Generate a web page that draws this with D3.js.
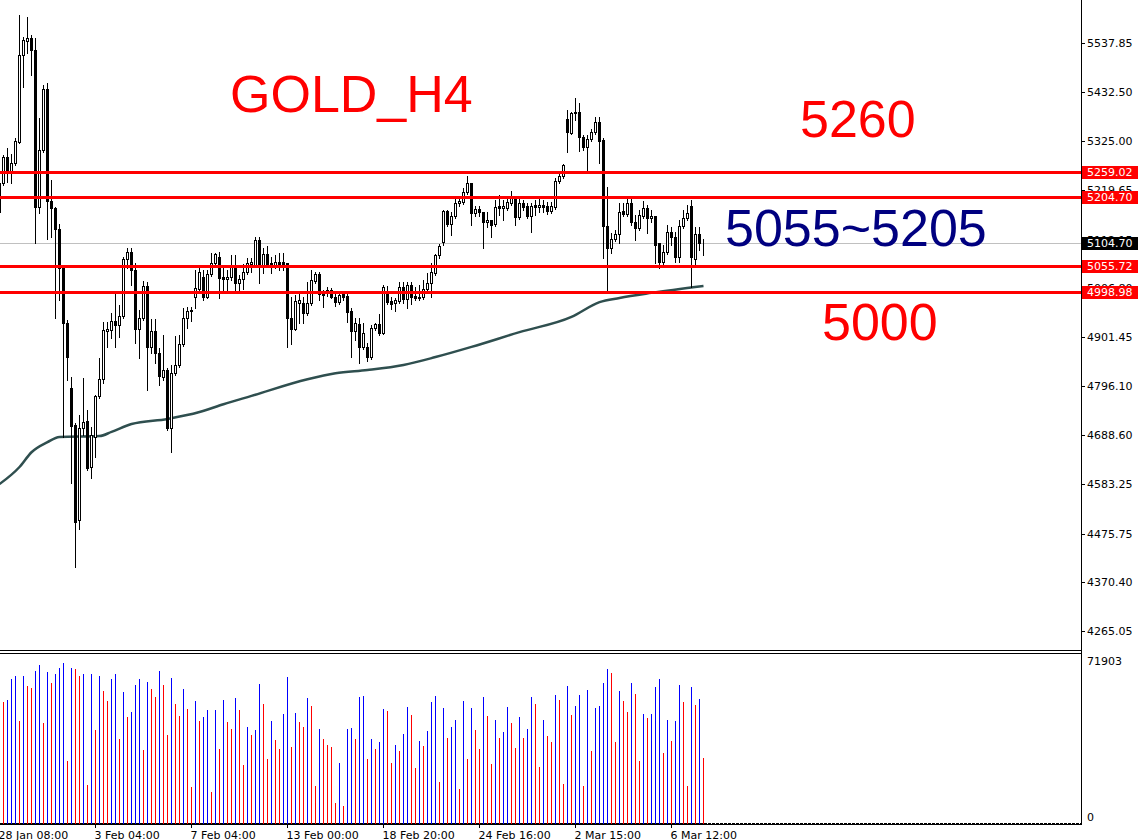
<!DOCTYPE html>
<html>
<head>
<meta charset="utf-8">
<script src="https://cdn.jsdelivr.net/npm/d3@7"></script>
<style>
html, body { margin: 0; padding: 0; background: #fff; overflow: hidden; }
svg { display: block; }
</style>
</head>
<body>
<div id="chart"></div>
<script>
// GOLD H4 candles, oldest first (first candle is partly off the left edge)
var opens = [
  5234.8, 5234.8, 5291.1, 5256.5, 5278.2, 5323.6, 5511.9, 5542.2, 5548.7, 5522.8,
  5182.8, 5306.3, 5438.3, 5195.8, 5180.7, 5135.2, 5050.8, 4931.7, 4791.1, 4711.0,
  4505.4, 4704.5, 4719.7, 4620.1, 4684.9, 4773.8, 4810.5, 4913.9, 4916.0, 4936.0,
  4927.4, 4946.9, 5070.3, 5085.5, 5046.5, 4918.2, 4942.5, 5011.9, 4879.8, 4913.9,
  4866.8, 4814.9, 4830.1, 4704.5, 4823.6, 4840.9, 4886.3, 4942.5, 4957.8, 4988.1,
  5005.4, 5031.4, 4988.1, 5037.9, 5061.6, 5074.6, 5031.4, 5027.1, 5031.4, 5053.0,
  5018.4, 5027.1, 5042.2, 5059.5, 5057.3, 5111.5, 5057.3, 5081.2, 5061.6, 5057.3,
  5063.8, 5063.8, 5061.6, 4942.5, 4918.2, 4975.1, 4975.1, 4953.4, 4975.1, 5022.7,
  5037.9, 4996.8, 4996.8, 5003.3, 4988.1, 4977.3, 4994.6, 4990.3, 4957.8, 4913.9,
  4929.6, 4879.8, 4879.8, 4858.2, 4920.4, 4929.6, 4909.6, 4996.8, 4979.4, 4975.1,
  4979.4, 5009.8, 4983.8, 5014.0, 4990.3, 4988.1, 4988.1, 5005.4, 5018.4, 5040.0,
  5078.9, 5107.2, 5174.2, 5146.0, 5163.4, 5191.5, 5193.7, 5215.3, 5234.8, 5169.9,
  5178.6, 5172.0, 5150.4, 5154.7, 5146.0, 5185.0, 5180.7, 5180.7, 5191.5, 5202.4,
  5161.2, 5191.5, 5185.0, 5163.4, 5187.2, 5182.8, 5187.2, 5185.0, 5174.2, 5182.8,
  5239.1, 5250.0, 5373.4, 5343.1, 5386.4, 5388.5, 5334.4, 5312.8, 5330.1, 5345.3,
  5366.9, 5328.0, 5141.7, 5094.1, 5113.7, 5124.5, 5174.2, 5167.7, 5191.5, 5150.4,
  5137.4, 5163.4, 5180.7, 5159.1, 5163.4, 5105.0, 5063.8, 5085.5, 5128.8, 5118.0,
  5074.6, 5141.7, 5159.1, 5185.0, 5070.3, 5124.5, 5105.0
];
var highs = [
  5241.3, 5295.4, 5310.6, 5297.6, 5332.3, 5598.5, 5550.9, 5594.2, 5555.2, 5548.7,
  5375.5, 5447.0, 5451.3, 5241.3, 5182.8, 5146.0, 5050.8, 4938.2, 4814.9, 4715.3,
  4732.6, 4812.7, 4743.4, 4706.6, 4776.0, 4856.0, 4933.9, 4933.9, 4953.4, 4996.8,
  4970.8, 5074.6, 5094.1, 5094.1, 5061.6, 4960.0, 5022.7, 5020.5, 4940.4, 4940.4,
  4877.7, 4905.2, 4834.4, 4840.9, 4903.0, 4905.2, 4964.3, 4966.5, 4966.5, 5046.5,
  5055.1, 5046.5, 5046.5, 5083.3, 5083.3, 5085.5, 5053.0, 5046.5, 5078.9, 5078.9,
  5035.7, 5059.5, 5072.5, 5072.5, 5118.0, 5118.0, 5094.1, 5098.5, 5074.6, 5078.9,
  5083.3, 5083.3, 5061.6, 4988.1, 4992.4, 4994.6, 4988.1, 5020.5, 5046.5, 5042.2,
  5042.2, 5003.3, 5009.8, 5007.6, 4994.6, 4996.8, 4998.9, 4998.9, 4964.3, 4942.5,
  4942.5, 4931.7, 4888.4, 4927.4, 4931.7, 4951.3, 5014.0, 5011.9, 4988.1, 4985.9,
  5020.5, 5020.5, 5020.5, 5020.5, 5009.8, 5014.0, 5024.9, 5040.0, 5061.6, 5081.2,
  5102.8, 5176.4, 5176.4, 5172.0, 5202.4, 5202.4, 5224.0, 5250.0, 5234.8, 5185.0,
  5185.0, 5172.0, 5172.0, 5154.7, 5198.1, 5208.9, 5198.1, 5206.7, 5217.6, 5204.5,
  5202.4, 5198.1, 5191.5, 5191.5, 5198.1, 5202.4, 5198.1, 5193.7, 5193.7, 5245.6,
  5258.6, 5275.9, 5392.8, 5388.5, 5418.8, 5408.0, 5338.8, 5338.8, 5351.7, 5377.7,
  5377.7, 5332.3, 5226.2, 5126.6, 5133.1, 5191.5, 5191.5, 5202.4, 5202.4, 5165.5,
  5176.4, 5195.8, 5187.2, 5176.4, 5163.4, 5105.0, 5100.6, 5143.9, 5139.6, 5128.8,
  5154.7, 5176.4, 5187.2, 5198.1, 5139.6, 5139.6, 5113.7
];
var lows = [
  5165.5, 5230.5, 5237.0, 5234.8, 5273.8, 5321.5, 5442.7, 5516.3, 5468.7, 5105.0,
  5169.9, 5302.0, 5113.7, 5118.0, 4942.5, 4981.6, 4684.9, 4808.4, 4585.6, 4403.5,
  4485.8, 4689.2, 4613.6, 4596.3, 4641.6, 4769.5, 4801.9, 4879.8, 4898.7, 4879.8,
  4900.9, 4942.5, 5050.8, 5014.0, 4888.4, 4856.0, 4938.2, 4786.8, 4866.8, 4845.2,
  4797.6, 4808.4, 4700.2, 4652.5, 4819.3, 4836.6, 4882.0, 4920.4, 4936.0, 4964.3,
  5003.3, 4981.6, 4985.9, 5033.6, 5057.3, 4985.9, 5003.3, 5003.3, 5024.9, 5001.1,
  5003.3, 5005.4, 5037.9, 5042.2, 5055.1, 5018.4, 5040.0, 5055.1, 5040.0, 5050.8,
  5046.5, 5046.5, 4879.8, 4886.3, 4916.0, 4931.7, 4931.7, 4949.1, 4970.8, 5018.4,
  4981.6, 4966.5, 4990.3, 4985.9, 4968.6, 4973.0, 4981.6, 4933.9, 4858.2, 4895.0,
  4845.2, 4875.5, 4849.5, 4853.9, 4916.0, 4905.2, 4907.4, 4973.0, 4962.1, 4957.8,
  4975.1, 4975.1, 4964.3, 4973.0, 4981.6, 4981.6, 4983.8, 5001.1, 4988.1, 5035.7,
  5072.5, 5100.6, 5141.7, 5122.3, 5159.1, 5185.0, 5189.4, 5211.0, 5143.9, 5163.4,
  5163.4, 5094.1, 5139.6, 5118.0, 5141.7, 5165.5, 5154.7, 5176.4, 5187.2, 5143.9,
  5156.9, 5176.4, 5159.1, 5128.8, 5165.5, 5172.0, 5172.0, 5167.7, 5169.9, 5178.6,
  5234.8, 5245.6, 5302.0, 5341.0, 5371.2, 5304.2, 5306.3, 5260.8, 5325.8, 5341.0,
  5278.2, 5072.5, 5001.1, 5083.3, 5109.4, 5105.0, 5163.4, 5163.4, 5143.9, 5111.5,
  5133.1, 5159.1, 5126.6, 5150.4, 5061.6, 5050.8, 5059.5, 5081.2, 5100.6, 5063.8,
  5063.8, 5137.4, 5154.7, 5009.8, 5057.3, 5089.8, 5078.9
];
var closes = [
  5172.0, 5291.1, 5256.5, 5278.2, 5325.8, 5511.9, 5544.4, 5548.7, 5522.8, 5182.8,
  5306.3, 5438.3, 5195.8, 5180.7, 5135.2, 5050.8, 4931.7, 4858.2, 4708.8, 4501.0,
  4704.5, 4717.5, 4617.9, 4689.2, 4773.8, 4810.5, 4916.0, 4918.2, 4936.0, 4927.4,
  4946.9, 5070.3, 5085.5, 5046.5, 4918.2, 4942.5, 5011.9, 4879.8, 4913.9, 4866.8,
  4817.1, 4830.1, 4704.5, 4823.6, 4840.9, 4886.3, 4942.5, 4957.8, 4960.0, 5007.6,
  5042.2, 4988.1, 5037.9, 5061.6, 5081.2, 5029.2, 5027.1, 5031.4, 5053.0, 5018.4,
  5027.1, 5042.2, 5061.6, 5063.8, 5111.5, 5057.3, 5081.2, 5057.3, 5057.3, 5063.8,
  5059.5, 5057.3, 4942.5, 4918.2, 4979.4, 4981.6, 4953.4, 4975.1, 5024.9, 5037.9,
  4994.6, 4992.4, 5003.3, 4988.1, 4977.3, 4992.4, 4988.1, 4955.6, 4913.9, 4931.7,
  4879.8, 4909.6, 4858.2, 4920.4, 4929.6, 4909.6, 5009.8, 4977.3, 4973.0, 4981.6,
  5009.8, 4983.8, 5014.0, 4988.1, 4985.9, 4985.9, 5005.4, 5018.4, 5042.2, 5078.9,
  5098.5, 5174.2, 5146.0, 5163.4, 5191.5, 5195.8, 5215.3, 5234.8, 5169.9, 5178.6,
  5172.0, 5150.4, 5154.7, 5143.9, 5182.8, 5180.7, 5185.0, 5193.7, 5202.4, 5161.2,
  5191.5, 5182.8, 5163.4, 5185.0, 5182.8, 5187.2, 5182.8, 5174.2, 5185.0, 5239.1,
  5250.0, 5273.8, 5345.3, 5386.4, 5388.5, 5334.4, 5312.8, 5330.1, 5345.3, 5366.9,
  5325.8, 5141.7, 5094.1, 5113.7, 5124.5, 5172.0, 5167.7, 5191.5, 5150.4, 5137.4,
  5165.5, 5180.7, 5159.1, 5163.4, 5100.6, 5063.8, 5085.5, 5128.8, 5118.0, 5074.6,
  5141.7, 5159.1, 5169.9, 5074.6, 5124.5, 5105.0, 5104.7
];
var volumes = [
  60000, 53655, 54831, 63945, 65121, 45570, 65415, 61005, 60123, 67620,
  70266, 44688, 67179, 62328, 66297, 68943, 71148, 27930, 68943, 68355,
  65415, 66003, 17346, 66297, 41601, 65415, 58800, 54390, 64092, 66297,
  37632, 58359, 47334, 49539, 61446, 64092, 32781, 62769, 59682, 56154,
  67620, 61446, 39396, 64533, 53067, 47775, 59682, 50862, 16464, 54390,
  45570, 47334, 50421, 14259, 50421, 33222, 54831, 45129, 42042, 55713,
  50127, 26166, 42777, 39249, 41307, 61887, 53067, 28812, 45570, 37191,
  32928, 48657, 64974, 34104, 49098, 45129, 42777, 55713, 52185, 16905,
  42042, 37632, 34839, 34104, 9408, 27048, 8085, 42042, 42483, 37632,
  56154, 56400, 28812, 37632, 33222, 36309, 50862, 49980, 27048, 34986,
  32340, 39837, 51744, 48216, 24843, 36750, 34545, 41160, 53949, 56595,
  18669, 51303, 38073, 42924, 46011, 15582, 54390, 28812, 51303, 41601,
  33222, 56154, 47775, 26607, 46011, 38073, 40719, 51744, 44688, 33663,
  47334, 38073, 42042, 56154, 53067, 25284, 46011, 38955, 36309, 57036,
  54831, 17787, 61005, 48216, 52185, 57036, 16905, 59241, 32340, 51303,
  52185, 62328, 68502, 66738, 36309, 58800, 54390, 49539, 62328, 57477,
  27930, 48657, 46893, 48657, 60564, 64092, 31458, 46011, 36750, 45570,
  61446, 53949, 16905, 60564, 52626, 55272, 29253
];

// moving average read at a few candles: [candle index, price]
var maPoints = [
  [0, 4583], [5, 4620], [8, 4652], [12, 4674], [15, 4685], [25, 4687],
  [28, 4696], [33, 4713], [42, 4724], [50, 4739], [56, 4756], [63, 4774],
  [77, 4810], [84, 4823], [92, 4830], [101, 4841], [109, 4858], [118, 4880],
  [130, 4912], [143, 4945], [150, 4977], [155, 4986], [163, 4997], [176, 5012]
];

var priceTicks = [4265.05, 4370.40, 4475.75, 4583.25, 4688.60, 4796.10, 4901.45,
  5006.80, 5112.15, 5219.65, 5325.00, 5432.50, 5537.85];
var levelLines = [5259.02, 5204.70, 5055.72, 4998.98];
var bidPrice = 5104.70;
var volMax = 71903;

var dateTickIdx = [0, 24, 48, 72, 96, 120, 144, 168];
var dateTickLabels = ["28 Jan 08:00", "3 Feb 04:00", "7 Feb 04:00", "13 Feb 00:00",
  "18 Feb 20:00", "24 Feb 16:00", "2 Mar 15:00", "6 Mar 12:00"];

var notes = [
  { text: "GOLD_H4", x: 230, y: 112, color: "#ff0000" },
  { text: "5260", x: 800, y: 137, color: "#ff0000" },
  { text: "5055~5205", x: 725, y: 246, color: "#000080" },
  { text: "5000", x: 822, y: 340, color: "#ff0000" }
];

var width = 1143, height = 840;
var axisX = 1081;
var mainBottom = 650, volTopY = 653, volBottom = 824;

var svg = d3.select("#chart")
  .append("svg")
  .attr("width", width)
  .attr("height", height)
  .style("font-family", "'DejaVu Sans', sans-serif");

var x = d3.scaleLinear().domain([0, 176]).range([-0.5, 703.5]);
var y = d3.scaleLinear().domain([4265.05, 5537.85]).range([631, 43]);
var yv = d3.scaleLinear().domain([0, volMax]).range([volBottom, 661]);

var candles = opens.map(function (o, i) {
  return { i: i, o: o, h: highs[i], l: lows[i], c: closes[i], v: volumes[i] };
});

svg.append("defs").append("clipPath").attr("id", "mainclip")
  .append("rect").attr("x", 0).attr("y", 0).attr("width", axisX).attr("height", mainBottom);

var main = svg.append("g").attr("clip-path", "url(#mainclip)");

// bid line
main.append("line")
  .attr("x1", 0).attr("x2", axisX)
  .attr("y1", Math.round(y(bidPrice)) + 0.5).attr("y2", Math.round(y(bidPrice)) + 0.5)
  .attr("stroke", "#c0c0c0").attr("stroke-width", 1);

// moving average
var maLine = d3.line()
  .x(function (d) { return x(d[0]); })
  .y(function (d) { return y(d[1]); })
  .curve(d3.curveMonotoneX);
main.append("path")
  .datum(maPoints)
  .attr("d", maLine)
  .attr("fill", "none")
  .attr("stroke", "#2f4f4f")
  .attr("stroke-width", 2.5);

// candles
var cg = main.append("g").selectAll("g").data(candles).enter().append("g");
cg.append("line")
  .attr("x1", function (d) { return x(d.i); })
  .attr("x2", function (d) { return x(d.i); })
  .attr("y1", function (d) { return Math.round(y(d.h)); })
  .attr("y2", function (d) { return Math.round(y(d.l)) + 1; })
  .attr("stroke", "#000").attr("stroke-width", 1);
cg.append("rect")
  .attr("x", function (d) { return x(d.i) - 1; })
  .attr("y", function (d) { return Math.round(y(Math.max(d.o, d.c))) + 0.5; })
  .attr("width", 2)
  .attr("height", function (d) {
    return Math.max(0, Math.round(y(Math.min(d.o, d.c))) - Math.round(y(Math.max(d.o, d.c))));
  })
  .attr("fill", function (d) { return d.c >= d.o ? "#fff" : "#000"; })
  .attr("stroke", "#000").attr("stroke-width", 1);

// level lines
main.selectAll(".lvl").data(levelLines).enter().append("line")
  .attr("x1", 0).attr("x2", axisX)
  .attr("y1", function (d) { return Math.round(y(d)) + 0.5; })
  .attr("y2", function (d) { return Math.round(y(d)) + 0.5; })
  .attr("stroke", "#ff0000").attr("stroke-width", 3);

// notes
svg.selectAll(".note").data(notes).enter().append("text")
  .attr("x", function (d) { return d.x; })
  .attr("y", function (d) { return d.y; })
  .attr("fill", function (d) { return d.color; })
  .style("font-family", "'Liberation Sans', Arial, sans-serif")
  .style("font-size", "52px")
  .text(function (d) { return d.text; });

// volume bars
svg.append("g").selectAll("line").data(candles).enter().append("line")
  .attr("x1", function (d) { return x(d.i); })
  .attr("x2", function (d) { return x(d.i); })
  .attr("y1", volBottom)
  .attr("y2", function (d) { return Math.round(yv(d.v)); })
  .attr("stroke", function (d, i) {
    return i > 0 && d.v > volumes[i - 1] ? "#0000ff" : "#ff0000";
  })
  .attr("stroke-width", 1);

// frames
var frame = svg.append("g").attr("stroke", "#000").attr("stroke-width", 1);
frame.append("line").attr("x1", axisX + 0.5).attr("x2", axisX + 0.5).attr("y1", 0).attr("y2", volBottom + 1);
frame.append("line").attr("x1", 0).attr("x2", axisX + 1).attr("y1", mainBottom + 0.5).attr("y2", mainBottom + 0.5);
frame.append("line").attr("x1", 0).attr("x2", axisX + 1).attr("y1", volTopY + 0.5).attr("y2", volTopY + 0.5);
frame.append("line").attr("x1", 0).attr("x2", axisX + 1).attr("y1", volBottom + 0.5).attr("y2", volBottom + 0.5);
frame.append("line").attr("x1", 0).attr("x2", axisX).attr("y1", volBottom - 0.5).attr("y2", volBottom - 0.5)
  .attr("stroke-dasharray", "3,1");

// right price axis
var ra = svg.append("g");
ra.selectAll("line").data(priceTicks).enter().append("line")
  .attr("x1", axisX).attr("x2", axisX + 4)
  .attr("y1", function (d) { return Math.round(y(d)) + 0.5; })
  .attr("y2", function (d) { return Math.round(y(d)) + 0.5; })
  .attr("stroke", "#000");
ra.selectAll("text").data(priceTicks).enter().append("text")
  .attr("x", 1087)
  .attr("y", function (d) { return y(d); })
  .attr("dy", "0.36em")
  .style("font-size", "11px")
  .attr("fill", "#000")
  .text(function (d) { return d.toFixed(2); });

// price tags
var tags = levelLines.map(function (p) { return { p: p, bg: "#ff0000" }; });
tags.push({ p: bidPrice, bg: "#000" });
var tg = svg.append("g").selectAll("g").data(tags).enter().append("g");
tg.append("rect")
  .attr("x", axisX + 1)
  .attr("y", function (d) { return Math.round(y(d.p)) - 6; })
  .attr("width", 56).attr("height", 13)
  .attr("fill", function (d) { return d.bg; });
tg.append("text")
  .attr("x", 1087)
  .attr("y", function (d) { return y(d.p); })
  .attr("dy", "0.36em")
  .style("font-size", "11px")
  .attr("fill", "#fff")
  .text(function (d) { return d.p.toFixed(2); });

// volume axis labels
var va = svg.append("g");
va.selectAll("text").data([volMax, 0]).enter().append("text")
  .attr("x", 1087)
  .attr("y", function (d) { return d === 0 ? 817 : 661; })
  .attr("dy", "0.36em")
  .style("font-size", "11px")
  .text(function (d) { return d; });

// time axis
var ta = svg.append("g");
ta.selectAll("line").data(dateTickIdx).enter().append("line")
  .attr("x1", function (d) { return x(d); }).attr("x2", function (d) { return x(d); })
  .attr("y1", volBottom).attr("y2", volBottom + 4)
  .attr("stroke", "#000");
ta.selectAll("text").data(dateTickIdx).enter().append("text")
  .attr("x", function (d) { return x(d) - 1; })
  .attr("y", 839)
  .style("font-size", "11px")
  .text(function (d, i) { return dateTickLabels[i]; });
</script>
</body>
</html>
